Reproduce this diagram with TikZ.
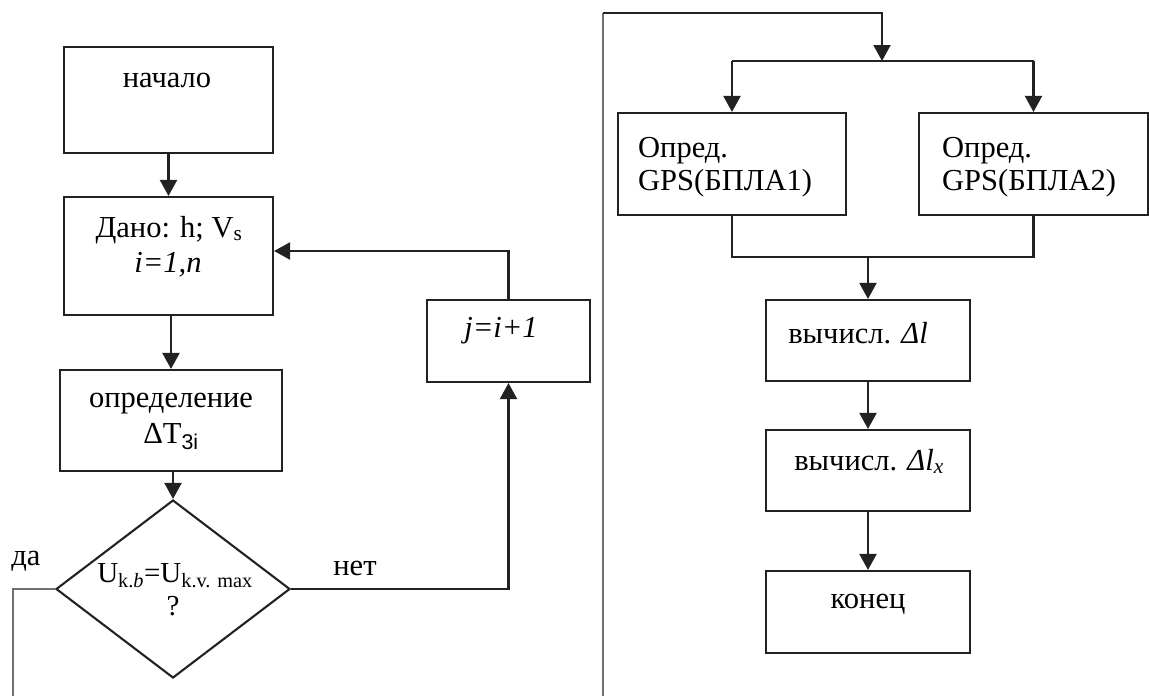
\documentclass[tikz,border=0pt]{standalone}
\usepackage{fontspec}
\setmainfont{Liberation Serif}
\newfontfamily\subsans{Liberation Sans}
\usetikzlibrary{arrows.meta,shapes.geometric,calc}
\definecolor{ink}{HTML}{222222}
\definecolor{rule}{HTML}{707070}
\newcommand\fs{\fontsize{30.5}{35}\selectfont}
\newcommand\fsd{\fontsize{29}{34}\selectfont}

\begin{document}
\begin{tikzpicture}[x=1pt,y=-1pt,
  box/.style={draw=ink,line width=2.1pt,rectangle,inner sep=0pt},
  decision/.style={draw=ink,line width=2.1pt,diamond,inner sep=0pt},
  txt/.style={inner sep=0pt,anchor=base,font=\fs,text=black},
  ltxt/.style={txt,anchor=base west},
  line/.style={draw=ink,line width=2.1pt},
  flow/.style={line,-{Triangle[width=17pt,length=16pt]}},
  divider/.style={draw=rule,line width=2.6pt}]

\useasboundingbox (0,0) rectangle (1149,696);

% ---- left column: loop over i ----
\node[box,minimum width=209pt,minimum height=106pt] (start) at (168.5,100) {};
\node[txt] (startT) at (167,87) {начало};

\node[box,minimum width=209pt,minimum height=118pt] (given) at (168.5,256) {};
\node[txt] (givenA) at (169,237) {Дано: h; V\textsubscript{s}};
\node[txt] (givenB) at (168,272) {\itshape i=1,n};

\node[box,minimum width=222pt,minimum height=101pt] (calc) at (171,420.5) {};
\node[txt] (calcA) at (171,407) {определение};
\node[txt] (calcB) at (171,443) {ΔT\textsubscript{\subsans 3i}};

\node[decision,minimum width=234pt,minimum height=178pt] (dec) at (173,589) {};
\node[txt,font=\fsd] (decA) at (175,582) {U\textsubscript{k.\textit{b}}=U\textsubscript{k.v. max}};
\node[txt,font=\fsd] (decB) at (173,615) {?};

\node[box,minimum width=163pt,minimum height=82pt] (jbox) at (508.5,341) {};
\node[txt] (jT) at (501,337) {\itshape j=i+1};

\node[txt] (yesT) at (26,565) {да};
\node[txt] (noT) at (355,575) {нет};

\coordinate (yesEnd) at (13,696);
\coordinate (backIn) at ($(given.east)+(0,-5)$);

\draw[flow] (start.south) -- (given.north);
\draw[flow] (calc.north |- given.south) -- (calc.north);
\draw[flow] (calc.south -| dec.north) -- (dec.north);
\draw[divider] (dec.west) -- (yesEnd |- dec.west) -- (yesEnd);
\draw[flow] (dec.east) -- (jbox.south |- dec.east) -- (jbox.south);
\draw[flow] (jbox.north) -- (jbox.north |- backIn) -- (backIn);

% ---- right column: distance computation ----
\coordinate (sepBot) at (603,696);
\coordinate (sepTop) at (603,13);
\coordinate (split) at (882,61);
\coordinate (merge) at (868,257);

\node[box,minimum width=228pt,minimum height=102pt] (gps1) at (732,164) {};
\node[ltxt] (gps1A) at (638,157) {Опред.};
\node[ltxt] (gps1B) at (638,190) {GPS(БПЛА1)};

\node[box,minimum width=229pt,minimum height=102pt] (gps2) at (1033.5,164) {};
\node[ltxt] (gps2A) at (942,157) {Опред.};
\node[ltxt] (gps2B) at (942,190) {GPS(БПЛА2)};

\node[box,minimum width=204pt,minimum height=81pt] (dl) at (868,340.5) {};
\node[txt] (dlT) at (858,343) {вычисл. {\itshape Δl}};

\node[box,minimum width=204pt,minimum height=81pt] (dlx) at (868,470.5) {};
\node[txt] (dlxT) at (869,470) {вычисл. {\itshape Δl\textsubscript{x}}};

\node[box,minimum width=204pt,minimum height=82pt] (stop) at (868,612) {};
\node[txt] (stopT) at (868,608) {конец};

\draw[divider] (sepBot) -- (sepTop);
\draw[flow] (sepTop) -- (split |- sepTop) -- (split);
\draw[line] (gps1.north |- split) -- (gps2.north |- split);
\draw[flow] (gps1.north |- split) -- (gps1.north);
\draw[flow] (gps2.north |- split) -- (gps2.north);
\draw[line] (gps1.south) -- (gps1.south |- merge) -- (gps2.south |- merge) -- (gps2.south);
\draw[flow] (merge) -- (dl.north);
\draw[flow] (dl.south) -- (dlx.north);
\draw[flow] (dlx.south) -- (stop.north);
\end{tikzpicture}
\end{document}
